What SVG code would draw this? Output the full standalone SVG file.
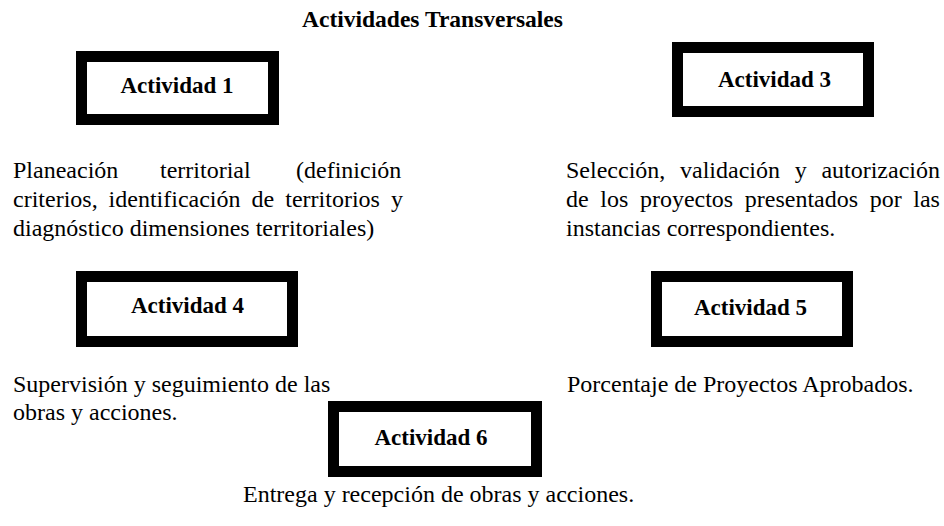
<svg xmlns="http://www.w3.org/2000/svg" width="944" height="526" viewBox="0 0 944 526">
<style>
.box{fill:#fff;stroke:#000;stroke-width:11}
.lbl{font-family:"Liberation Serif","Times New Roman",serif;font-weight:bold;font-size:23px;fill:#000;text-anchor:middle}
.ttl{font-family:"Liberation Serif","Times New Roman",serif;font-weight:bold;font-size:23.5px;fill:#000}
.body{font-family:"Liberation Serif","Times New Roman",serif;font-size:24px;fill:#000}
</style>
<rect width="944" height="526" fill="#fff"/>
<text class="ttl" x="302" y="27">Actividades Transversales</text>
<g id="act1">
<rect class="box" x="81.5" y="56.5" width="192" height="63"/>
<text class="lbl" x="177" y="93">Actividad 1</text>
</g>
<g id="act3">
<rect class="box" x="677.5" y="47.5" width="191" height="64"/>
<text class="lbl" x="774.5" y="87">Actividad 3</text>
</g>
<g id="act4">
<rect class="box" x="81.5" y="276.5" width="211" height="65"/>
<text class="lbl" x="187.5" y="313">Actividad 4</text>
</g>
<g id="act5">
<rect class="box" x="656.5" y="276.5" width="191" height="65"/>
<text class="lbl" x="750.5" y="315">Actividad 5</text>
</g>
<g id="act6">
<rect class="box" x="333.5" y="406.5" width="203" height="65"/>
<text class="lbl" x="431" y="445">Actividad 6</text>
</g>
<g id="texts">
<text class="body" y="178"><tspan x="13">Planeación</tspan><tspan x="160">territorial</tspan><tspan x="296">(definición</tspan></text>
<text class="body" y="207"><tspan x="13">criterios,</tspan><tspan x="108.6">identificación</tspan><tspan x="251.6">de</tspan><tspan x="285.3">territorios</tspan><tspan x="391">y</tspan></text>
<text class="body" x="13" y="236">diagnóstico dimensiones territoriales)</text>
<text class="body" y="178"><tspan x="566">Selección,</tspan><tspan x="680">validación</tspan><tspan x="794.7">y</tspan><tspan x="821.4">autorización</tspan></text>
<text class="body" y="207"><tspan x="566">de</tspan><tspan x="600.3">los</tspan><tspan x="639.9">proyectos</tspan><tspan x="744.8">presentados</tspan><tspan x="869.7">por</tspan><tspan x="913.3">las</tspan></text>
<text class="body" x="566" y="236">instancias correspondientes.</text>
<text class="body" x="13" y="392">Supervisión y seguimiento de las</text>
<text class="body" x="13" y="420">obras y acciones.</text>
<text class="body" x="567" y="392">Porcentaje de Proyectos Aprobados.</text>
<text class="body" x="243" y="502">Entrega y recepción de obras y acciones.</text>
</g>
</svg>
